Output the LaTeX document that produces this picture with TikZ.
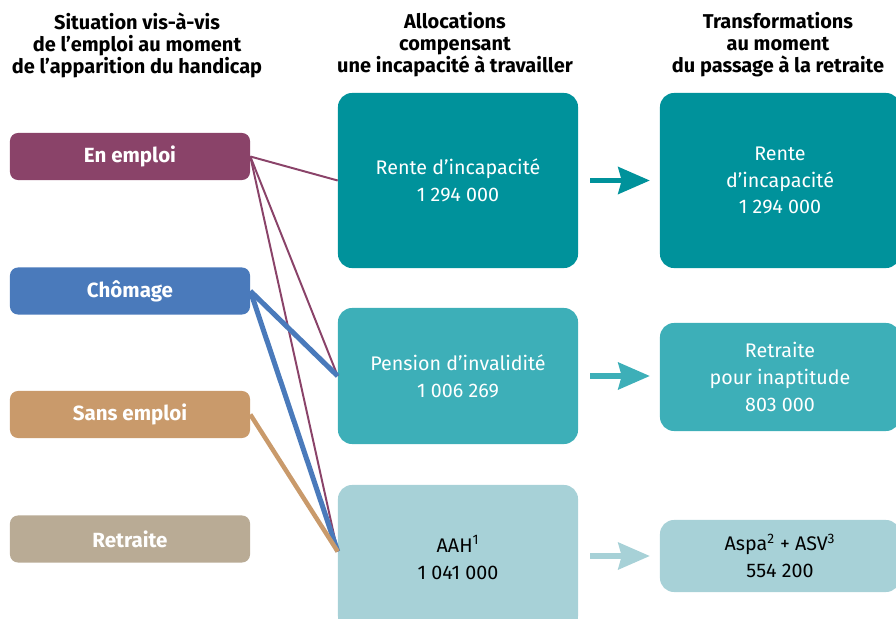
\documentclass[tikz,border=0pt]{standalone}
\usepackage{fontspec}
\setmainfont{Fira Sans}
\usetikzlibrary{arrows.meta, positioning}
\definecolor{emploiC}{HTML}{8A4369}
\definecolor{chomageC}{HTML}{4A7ABB}
\definecolor{sansC}{HTML}{C99A6B}
\definecolor{retraiteC}{HTML}{B9AB95}
\definecolor{tealA}{HTML}{00929B}
\definecolor{tealB}{HTML}{3DAFB8}
\definecolor{tealC}{HTML}{A7D1D7}
\tikzset{
    header/.style={align=center, font=\fontsize{14.2}{15.6}\selectfont\bfseries},
    situation/.style={rectangle, rounded corners=0.2cm, minimum width=6cm, minimum height=1.175cm, text=white, font=\fontsize{14.6}{16}\selectfont\bfseries},
    allocation/.style={rectangle, rounded corners=0.35cm, minimum width=6cm, align=center, text=white, font=\fontsize{14}{19}\selectfont},
    link/.style={line width=1.4pt},
    bigarrow/.style={line width=3.6pt, -{Stealth[length=0.8cm, width=0.7cm, inset=0.1cm, line width=0pt]}, shorten <=0.3cm, shorten >=0.25cm}
}
\begin{document}
\begin{tikzpicture}[x=0.025cm, y=-0.025cm]
    \useasboundingbox (0,0) rectangle (896,619);
    \clip (0,0) rectangle (896,619);

    % Column headers
    \node (h1) [header] at (137,45) {Situation vis-à-vis\\de l’emploi au moment\\de l’apparition du handicap};
    \node (h2) [header] at (455,45) {Allocations\\compensant\\une incapacité à travailler};
    \node (h3) [header] at (778,45) {Transformations\\au moment\\du passage à la retraite};

    % Situation nodes
    \node (emploi) [situation, fill=emploiC] at (130,156.5) {En emploi};
    \node (chomage) [situation, fill=chomageC] at (130,291) {Chômage};
    \node (sansemploi) [situation, fill=sansC] at (130,414.5) {Sans emploi};
    \node (retraite) [situation, fill=retraiteC] at (130,539) {Retraite};

    % Allocation nodes
    \node (rente) [allocation, fill=tealA, minimum height=4.375cm] at (458,180.5) {Rente d’incapacité\\1 294 000};
    \node (pension) [allocation, fill=tealB, minimum height=3.4cm] at (458,376) {Pension d’invalidité\\1 006 269};
    \node (aah) [allocation, fill=tealC, text=black, minimum height=3.625cm] at (458,557.5) {AAH\textsuperscript{1}\\1 041 000};

    % Nodes after retirement
    \node (renteR) [allocation, fill=tealA, minimum height=4.375cm] at (780,180.5) {Rente\\d’incapacité\\1 294 000};
    \node (inaptitude) [allocation, fill=tealB, minimum height=2.7cm] at (780,377) {Retraite\\pour inaptitude\\803 000};
    \node (aspa) [allocation, fill=tealC, text=black, minimum height=1.8cm] at (780,556) {Aspa\textsuperscript{2} + ASV\textsuperscript{3}\\554 200};

    \coordinate (aahin) at ([yshift=0.15cm]aah.west);

    % Links from situations
    \draw [link, emploiC] (emploi.east) -- (rente.west);
    \draw [link, emploiC] (emploi.east) -- (pension.west);
    \draw [link, emploiC] (emploi.east) -- (aahin);
    \draw [link, chomageC, line width=3.6pt] (chomage.east) -- (pension.west);
    \draw [link, chomageC, line width=3.6pt] (chomage.east) -- (aahin);
    \draw [link, sansC, line width=3.2pt] (sansemploi.east) -- (aahin);

    % Transitions at retirement
    \draw [bigarrow, tealA] (rente) -- (renteR);
    \draw [bigarrow, tealB] (pension.east) -- (pension -| inaptitude.west);
    \draw [bigarrow, tealC] (aah.east |- aspa) -- (aspa);
\end{tikzpicture}
\end{document}
